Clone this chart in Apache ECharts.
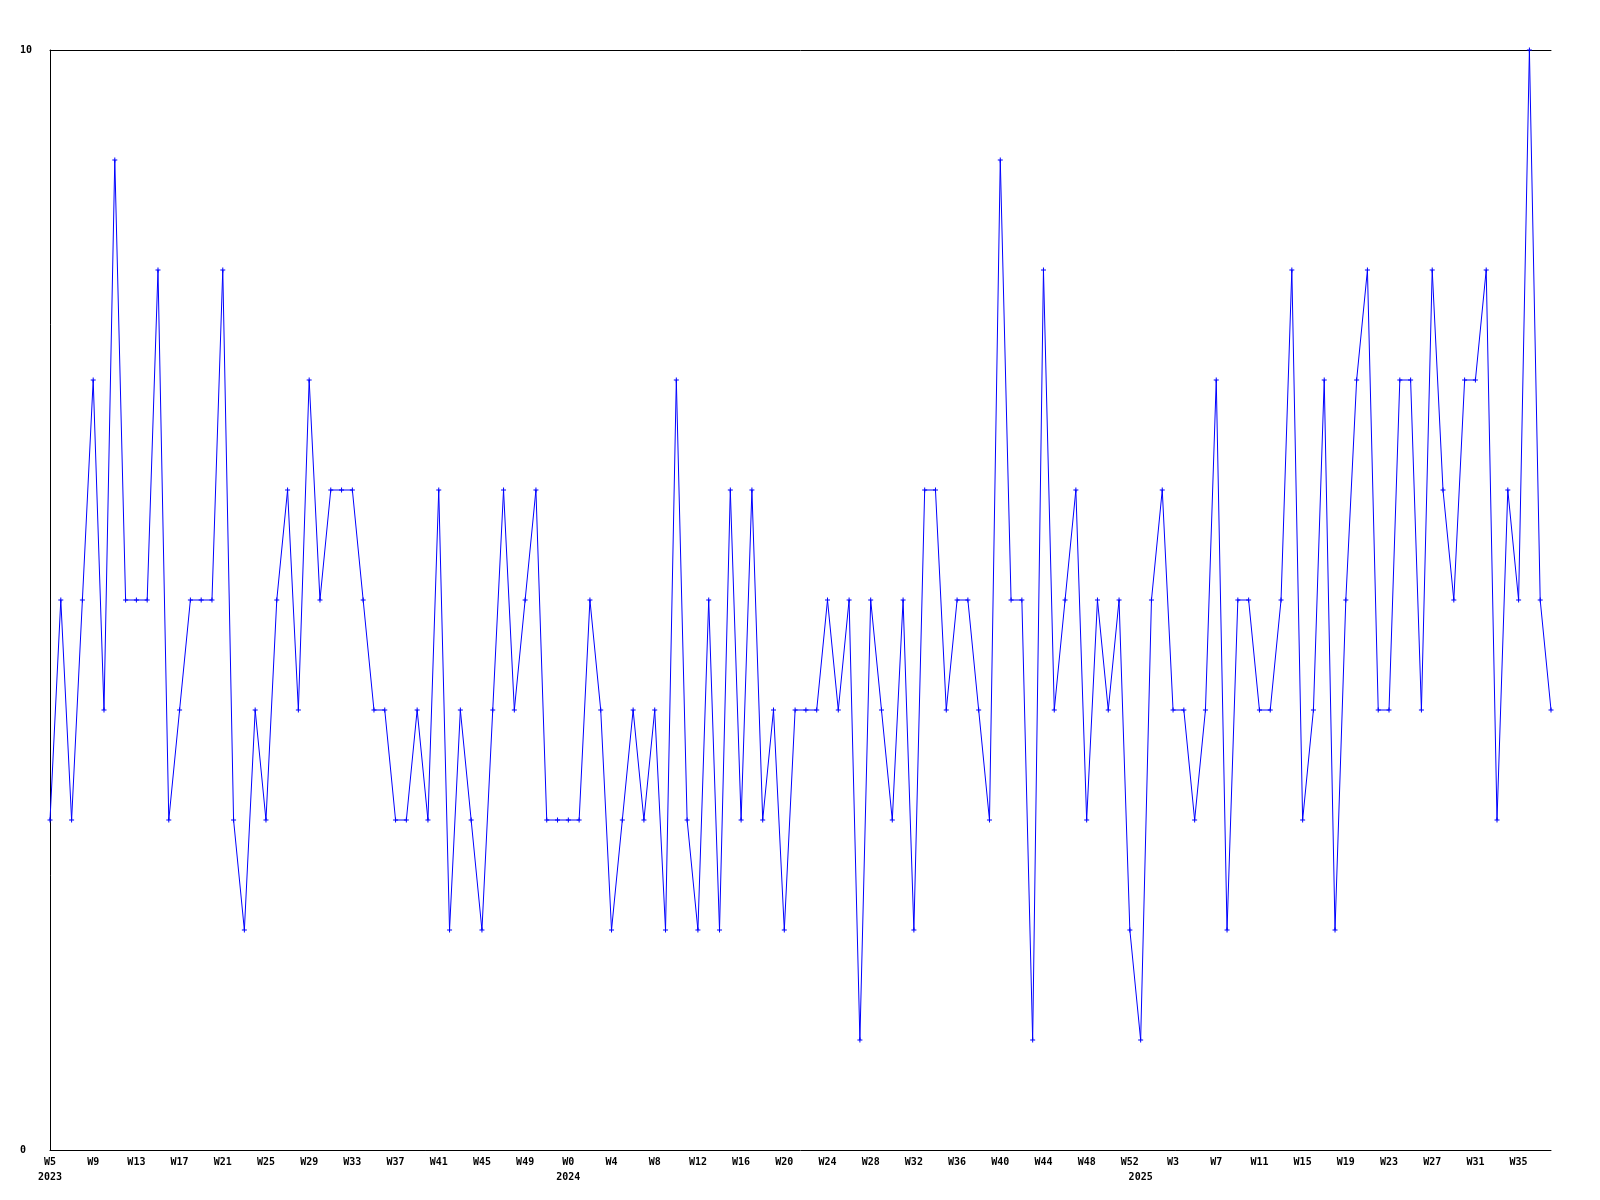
<!DOCTYPE html>
<html>
<head>
<meta charset="utf-8">
<script src="https://cdn.jsdelivr.net/npm/echarts@6/dist/echarts.min.js"></script>
<style>
html,body{margin:0;padding:0;background:#fff;}
#chart{width:1600px;height:1200px;}
</style>
</head>
<body>
<div id="chart"></div>
<script>
// ---- data ----
var years = [2023, 2024, 2025];
var firstWeek = [5, 0, 0];
var values2023 = [3,5,3,5,7,4,9,5,5,5,8,3,4,5,5,5,8,3,2,4,3,5,6,4,7,5,6,6,6,5,4,4,3,3,4,3,6,2,4,3,2,4,6,4,5,6,3,3];
var values2024 = [3,3,5,4,2,3,4,3,4,2,7,3,2,5,2,6,3,6,3,4,2,4,4,4,5,4,5,1,5,4,3,5,2,6,6,4,5,5,4,3,9,5,5,1,8,4,5,6,3,5,4,5,2];
var values2025 = [1,5,6,4,4,3,4,7,2,5,5,4,4,5,8,3,4,7,2,5,7,8,4,4,7,7,4,8,6,5,7,7,8,3,6,5,10,5,4];
var yTicks = [0, 10];

// ---- build categories ----
var perYear = [values2023, values2024, values2025];
var categories = [];
var values = [];
var yearStartIdx = {};
for (var y = 0; y < years.length; y++) {
  yearStartIdx[categories.length] = String(years[y]);
  for (var i = 0; i < perYear[y].length; i++) {
    categories.push(years[y] + '|W' + (firstWeek[y] + i));
    values.push(perYear[y][i]);
  }
}

var FONT = 'DejaVu Sans Mono';
var chart = echarts.init(document.getElementById('chart'), null, {renderer: 'canvas'});
var plus = 'path://M2,0H3V2H5V3H3V5H2V3H0V2H2Z';

chart.setOption({
  animation: false,
  backgroundColor: '#ffffff',
  grid: {left: 50, top: 50, right: 49, bottom: 50, containLabel: false},
  xAxis: [
    {
      type: 'category', data: categories, boundaryGap: false, position: 'bottom',
      axisLine: {show: true, lineStyle: {color: '#000', width: 1}},
      axisTick: {show: false},
      splitLine: {show: false},
      axisLabel: {
        interval: 3, margin: 7, color: '#000', fontFamily: FONT, fontWeight: 'bold', fontSize: 10,
        formatter: function (v) { return v.split('|')[1]; }
      }
    },
    {
      type: 'category', data: categories, boundaryGap: false, position: 'bottom',
      axisLine: {show: false}, axisTick: {show: false}, splitLine: {show: false},
      axisLabel: {
        margin: 22, color: '#000', fontFamily: FONT, fontWeight: 'bold', fontSize: 10,
        interval: function (idx) { return yearStartIdx[idx] !== undefined; },
        formatter: function (v) { return v.split('|')[0]; }
      }
    },
    {
      type: 'category', data: categories, boundaryGap: false, position: 'top',
      axisLine: {show: true, lineStyle: {color: '#000', width: 1}},
      axisTick: {show: false}, axisLabel: {show: false}, splitLine: {show: false}
    }
  ],
  yAxis: {
    type: 'value', min: yTicks[0], max: yTicks[1], interval: 10,
    axisLine: {show: true, lineStyle: {color: '#000', width: 1}},
    axisTick: {show: false},
    splitLine: {show: false},
    axisLabel: {margin: 30, align: 'left', color: '#000', fontFamily: FONT, fontWeight: 'bold', fontSize: 10}
  },
  series: [{
    type: 'line', data: values, xAxisIndex: 0,
    symbol: plus, symbolSize: 5, showAllSymbol: true,
    lineStyle: {color: '#0000ff', width: 1},
    itemStyle: {color: '#0000ff'}
  }]
});
</script>
</body>
</html>
